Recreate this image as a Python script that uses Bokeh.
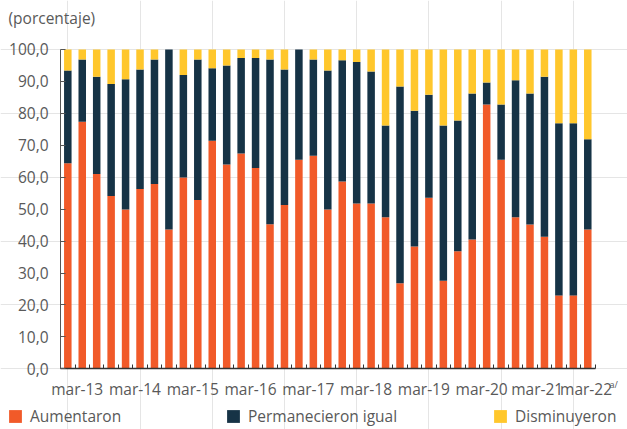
from bokeh.plotting import figure
from bokeh.models import (ColumnDataSource, FixedTicker, Legend, LegendItem, Label,
                          Range1d, LinearAxis)
from bokeh.embed import file_html
from bokeh.resources import INLINE

# ---- data ----
quarters = ["mar-13", "jun-13", "sep-13", "dic-13",
            "mar-14", "jun-14", "sep-14", "dic-14",
            "mar-15", "jun-15", "sep-15", "dic-15",
            "mar-16", "jun-16", "sep-16", "dic-16",
            "mar-17", "jun-17", "sep-17", "dic-17",
            "mar-18", "jun-18", "sep-18", "dic-18",
            "mar-19", "jun-19", "sep-19", "dic-19",
            "mar-20", "jun-20", "sep-20", "dic-20",
            "mar-21", "jun-21", "sep-21", "dic-21",
            "mar-22"]
aumentaron = [64.4, 77.4, 61.0, 54.1, 49.9, 56.3, 57.9, 43.6, 59.9, 52.9, 71.4, 64.0,
              67.4, 62.9, 45.3, 51.3, 65.5, 66.7, 49.9, 58.7, 51.8, 51.8, 47.5, 26.8,
              38.3, 53.6, 27.6, 36.8, 40.5, 82.8, 65.5, 47.5, 45.2, 41.4, 23.0, 23.0, 43.6]
permanecieron = [29.0, 19.5, 30.5, 35.1, 40.8, 37.4, 39.0, 56.4, 32.1, 44.0, 22.7, 31.0,
                 29.9, 34.4, 51.6, 42.4, 34.5, 30.2, 43.5, 37.9, 44.3, 41.3, 28.7, 61.6,
                 42.5, 32.2, 48.6, 41.0, 45.7, 6.9, 17.3, 42.9, 41.0, 50.1, 53.9, 53.9, 28.3]
disminuyeron = [6.6, 3.1, 8.5, 10.8, 9.3, 6.3, 3.1, 0.0, 8.0, 3.1, 5.9, 5.0,
                2.7, 2.7, 3.1, 6.3, 0.0, 3.1, 6.6, 3.4, 3.9, 6.9, 23.8, 11.6,
                19.2, 14.2, 23.8, 22.2, 13.8, 10.3, 17.2, 9.6, 13.8, 8.5, 23.1, 23.1, 28.1]
series_names = ["Aumentaron", "Permanecieron igual", "Disminuyeron"]
year_labels = ["mar-13", "mar-14", "mar-15", "mar-16", "mar-17",
               "mar-18", "mar-19", "mar-20", "mar-21", "mar-22"]
y_ticks = [0, 10, 20, 30, 40, 50, 60, 70, 80, 90, 100]
y_tick_labels = ["0,0", "10,0", "20,0", "30,0", "40,0", "50,0",
                 "60,0", "70,0", "80,0", "90,0", "100,0"]

colors = ["#F15A29", "#163346", "#FFC72C"]
FONT = "Open Sans"
FS = "15.5px"
TXT = "#595959"
W, H = 627, 429

n = len(quarters)
idx = list(range(n))
src = ColumnDataSource(dict(x=idx, aum=aumentaron, perm=permanecieron, dism=disminuyeron))

p = figure(width=W, height=H, output_backend="svg", toolbar_location=None,
           x_range=Range1d(-4.66, 38.75), y_range=Range1d(-18.99, 115.34),
           x_axis_location=None, y_axis_location=None, min_border=0)
p.outline_line_color = None

rs = p.vbar_stack(["aum", "perm", "dism"], x="x", width=0.52, color=colors,
                  line_color=None, source=src)

# x axis drawn at y = 0
label_offsets = [0.65] * (len(year_labels) - 2) + [0.5, -0.12]
label_pos = [quarters.index(lab) + off for lab, off in zip(year_labels, label_offsets)]
xaxis = LinearAxis(fixed_location=0, bounds=(-0.5, n - 0.5),
                   ticker=FixedTicker(ticks=label_pos, minor_ticks=[i + 0.5 for i in range(-1, n)]),
                   major_label_overrides={pos: lab for pos, lab in zip(label_pos, year_labels)},
                   major_tick_in=0, major_tick_out=0, minor_tick_in=4, minor_tick_out=0,
                   minor_tick_line_color="#333333", axis_line_color="#333333",
                   axis_line_width=1.3, major_label_standoff=9,
                   major_label_text_font=FONT, major_label_text_font_size=FS,
                   major_label_text_color=TXT)
p.add_layout(xaxis, "below")

# y axis drawn at the left edge of the first category
yaxis = LinearAxis(fixed_location=-0.505, bounds=(0, 100),
                   ticker=FixedTicker(ticks=y_ticks),
                   major_label_overrides={t: l for t, l in zip(y_ticks, y_tick_labels)},
                   major_tick_in=5, major_tick_out=0, minor_tick_line_color=None,
                   axis_line_color="#555555", major_tick_line_color="#555555",
                   major_label_standoff=12, major_label_text_font=FONT,
                   major_label_text_font_size=FS, major_label_text_color=TXT)
p.add_layout(yaxis, "left")

# superscript a/ after mar-22
p.add_layout(Label(x=609, y=H - 377, x_units="screen", y_units="screen", text="a/",
                   text_font=FONT, text_font_size="9px", text_color=TXT,
                   text_baseline="top", text_align="left"))

# title "(porcentaje)"
p.add_layout(Label(x=8, y=H - 6, x_units="screen", y_units="screen",
                   text="(porcentaje)", text_font=FONT, text_font_size=FS,
                   text_color=TXT, text_baseline="top", text_align="left"))

# legends
for r, name, vx in zip(rs, series_names, [7, 225, 492]):
    lg = Legend(items=[LegendItem(label=name, renderers=[r])], location=(vx, 2),
                orientation="horizontal", padding=0, margin=0, spacing=0,
                glyph_width=16, glyph_height=16, label_height=16, label_standoff=7,
                border_line_color=None, background_fill_alpha=0,
                label_text_font=FONT, label_text_font_size=FS, label_text_color=TXT)
    p.add_layout(lg)

open("out.html", "w").write(file_html(p, INLINE))
